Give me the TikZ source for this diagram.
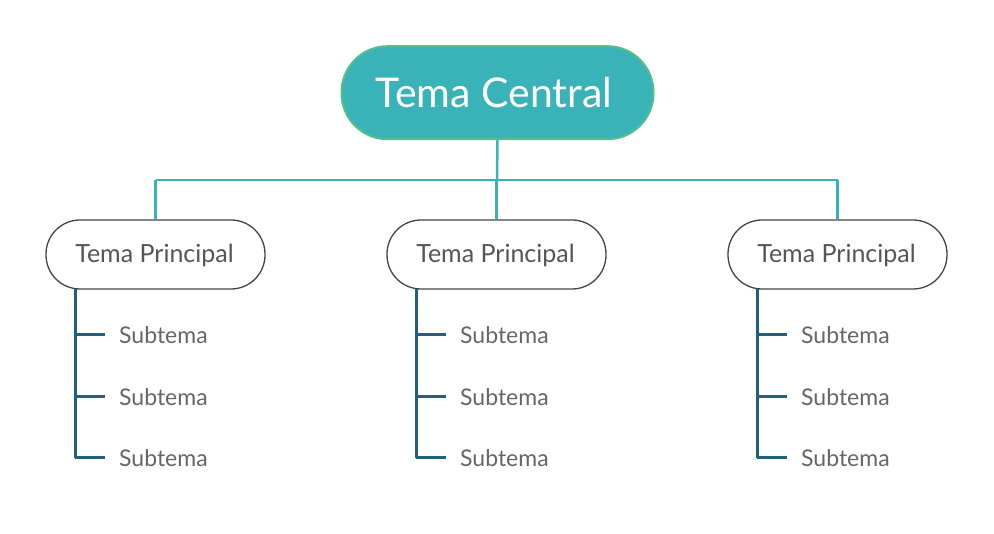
\documentclass[tikz,border=0pt]{standalone}
\usepackage{fontspec}
\setmainfont{Lato}
\definecolor{teal1}{HTML}{3AB3B8}
\definecolor{tealedge}{HTML}{52C08C}
\definecolor{pedge}{HTML}{444444}
\definecolor{ptext}{HTML}{555555}
\definecolor{subline}{HTML}{22607F}
\definecolor{stext}{HTML}{666666}
\newcommand{\capc}[1]{\smash{\raisebox{-0.358em}{#1}}}
\tikzset{
  central/.style={draw=tealedge, line width=2pt, fill=teal1, rounded corners=46pt,
    minimum width=312pt, minimum height=93pt, inner sep=0pt},
  ctext/.style={text=white, inner sep=0pt, font=\fontsize{41}{45}\selectfont},
  principal/.style={draw=pedge, line width=1.3pt, fill=white, rounded corners=34pt,
    minimum width=219pt, minimum height=69pt, inner sep=0pt},
  ptextstyle/.style={text=ptext, inner sep=0pt, font=\fontsize{25}{29}\selectfont},
  sub/.style={text=stext, anchor=west, inner sep=0pt, font=\fontsize{23}{27}\selectfont},
  conn/.style={draw=teal1, line width=2.5pt},
  subconn/.style={draw=subline, line width=3pt},
}
\begin{document}
\begin{tikzpicture}[x=1pt,y=-1pt]
\useasboundingbox (0,0) rectangle (994,534);
\node[central] (c) at (497.5,92.7) {};
\node[ctext] (ct) at (494,92.7) {\capc{Tema Central}};
\coordinate (j) at (497,180);
\foreach \i/\x in {1/155.5,2/496.5,3/837.5}{
  \node[principal] (p\i) at (\x,254.5) {};
  \node[ptextstyle] (l\i) at (\x-1,254) {\capc{Tema Principal}};
  \coordinate (t\i) at (\x,180);
  \coordinate (v\i) at (\x-80.5,289);
  \coordinate (b\i) at (\x-80.5,458);
  \foreach \k/\y in {1/335,2/397,3/458}{
    \coordinate (h\i\k) at (\x-80.5,\y);
    \node[sub] (s\i\k) at (\x-36.5,\y) {\capc{Subtema}};
    \draw[subconn] (h\i\k) -- (\x-50.5,\y);
  }
  \draw[subconn] (v\i) -- (b\i);
}
\draw[conn] (c.south) -- (j);
\draw[conn] (t1) -- (t3);
\foreach \i in {1,2,3}{ \draw[conn] (t\i) -- (p\i.north); }
\end{tikzpicture}
\end{document}
